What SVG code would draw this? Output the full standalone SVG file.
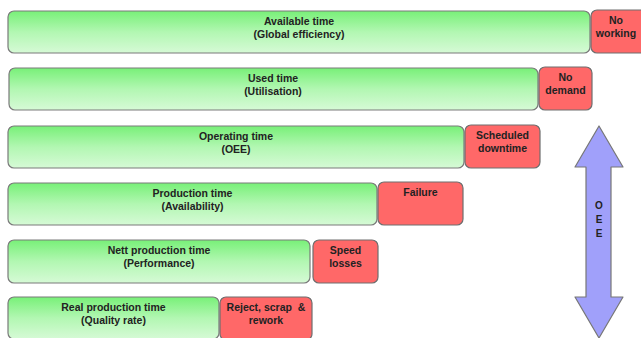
<svg xmlns="http://www.w3.org/2000/svg" width="641" height="338" viewBox="0 0 641 338">
<defs>
<linearGradient id="g" x1="0" y1="0" x2="0" y2="1">
<stop offset="0" stop-color="#78F078"/>
<stop offset="0.5" stop-color="#B2F7B2"/>
<stop offset="1" stop-color="#D6FAD6"/>
</linearGradient>
<style>
.gr{fill:url(#g);stroke:#7A7A7A;stroke-width:1.2}
.rd{fill:#FF6868;stroke:#6E6E6E;stroke-width:1.2}
text{font-family:"Liberation Sans",Arial,sans-serif;font-weight:bold;font-size:10.5px;fill:#222;text-anchor:middle;white-space:pre}
.v{font-size:10px}
</style>
</defs>
<rect width="641" height="338" fill="#fff"/>
<g id="available">
<rect class="gr" x="8" y="11" width="582" height="42" rx="6"/>
<text x="299" y="24.5">Available time</text>
<text x="299" y="37.5">(Global efficiency)</text>
</g>
<g id="noworking">
<rect class="rd" x="591" y="10" width="56" height="43" rx="6"/>
<text x="616" y="23.5">No</text>
<text x="616" y="36.5">working</text>
</g>
<g id="used">
<rect class="gr" x="9" y="68" width="529" height="42" rx="6"/>
<text x="273" y="82">Used time</text>
<text x="273" y="95">(Utilisation)</text>
</g>
<g id="nodemand">
<rect class="rd" x="539" y="67" width="53" height="43" rx="6"/>
<text x="565.5" y="81">No</text>
<text x="565.5" y="94">demand</text>
</g>
<g id="operating">
<rect class="gr" x="8" y="126" width="456" height="42" rx="6"/>
<text x="236" y="140">Operating time</text>
<text x="236" y="153">(OEE)</text>
</g>
<g id="scheduled">
<rect class="rd" x="465" y="125" width="75" height="43" rx="6"/>
<text x="502.5" y="139">Scheduled</text>
<text x="502.5" y="152">downtime</text>
</g>
<g id="production">
<rect class="gr" x="8" y="183" width="369" height="42" rx="6"/>
<text x="192.5" y="197">Production time</text>
<text x="192.5" y="210">(Availability)</text>
</g>
<g id="failure">
<rect class="rd" x="378" y="182" width="85" height="43" rx="6"/>
<text x="420.5" y="196">Failure</text>
</g>
<g id="nett">
<rect class="gr" x="8" y="240" width="302" height="43" rx="6"/>
<text x="159" y="254">Nett production time</text>
<text x="159" y="267">(Performance)</text>
</g>
<g id="speed">
<rect class="rd" x="313" y="240" width="65" height="43" rx="6"/>
<text x="345.5" y="254">Speed</text>
<text x="345.5" y="267">losses</text>
</g>
<g id="real">
<rect class="gr" x="8" y="297" width="211" height="42" rx="6"/>
<text x="113.5" y="311">Real production time</text>
<text x="113.5" y="324">(Quality rate)</text>
</g>
<g id="reject">
<rect class="rd" x="220" y="297" width="92" height="43" rx="6"/>
<text x="266" y="311">Reject, scrap  &amp;</text>
<text x="266" y="324">rework</text>
</g>
<g id="connectors">
<g id="oee-arrow">
<path d="M599,126 L623,167 L611,167 L611,297 L623,297 L599,338 L575,297 L586,297 L586,167 L575,167 Z" fill="#A0A0FA" stroke="#777" stroke-width="1.2" stroke-linejoin="round"/>
<text class="v" x="599" y="209">O</text>
<text class="v" x="599" y="223">E</text>
<text class="v" x="599" y="237">E</text>
</g>
</g>
</svg>
